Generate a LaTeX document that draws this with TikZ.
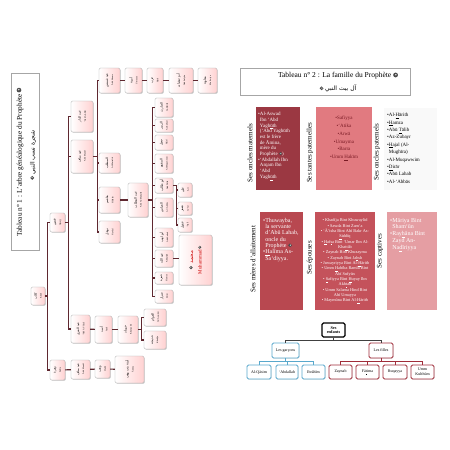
\documentclass[tikz,border=0pt]{standalone}
\usepackage{fontspec}
\usepackage{graphicx}
\setmainfont{Liberation Serif}
\newfontfamily\arabicfont[Script=Arabic]{DejaVu Sans}
\TeXXeTstate=1
\usetikzlibrary{shadows,calc}
\definecolor{tline}{RGB}{95,40,48}
\definecolor{pdark}{RGB}{155,56,66}
\definecolor{psalmon}{RGB}{225,122,128}
\definecolor{pmed}{RGB}{184,72,80}
\definecolor{pmid}{RGB}{196,82,91}
\definecolor{plight}{RGB}{229,158,163}
\definecolor{tdark}{RGB}{120,25,35}
\definecolor{bblue}{RGB}{88,168,204}
\definecolor{bred}{RGB}{160,45,58}
\newcommand\arf[1]{{\arabicfont #1}}
% the honorific sign (no installed font has it): drawn as a small shape
\newcommand\saw{\tikz[baseline={(0,-0.08em)}]{\fill[black!70] (0,0.3em) circle[radius=0.32em];\fill[white] (0.05em,0.33em) circle[radius=0.1em];}}
\newcommand\udl[1]{\underline{#1}}
\newcommand\tb[8][]{\node[tbox,#1,minimum width={(#5-#3)*1pt},minimum height={(#6-#4)*1pt}] (#2) at ({(#3+#5)/2},{(#4+#6)/2}) {\rotatebox{90}{\shortstack{\fontsize{3.2}{3.6}\arf{#7}\\\fontsize{2.2}{2.6}\selectfont #8}}};}
\begin{document}
\begin{tikzpicture}[x=1pt,y=-1pt,
  tbox/.style={draw=gray!65, line width=0.4pt, rounded corners=1.3pt, left color=white, right color=red!18, inner sep=0pt, drop shadow={shadow xshift=0.8pt, shadow yshift=-0.8pt, fill=gray!65}},
  conn/.style={draw=tline, line width=1.1pt},
  titlebox/.style={draw=gray!70, line width=0.4pt, fill=white, inner sep=0pt},
  panel/.style={draw=none, inner sep=0pt},
  plabel/.style={rotate=90, inner sep=0pt, font=\fontsize{7}{8}\selectfont},
  kid/.style={draw, line width=0.9pt, rounded corners=1.5pt, fill=white, inner sep=0pt, align=center, font=\fontsize{4}{4.6}\selectfont, drop shadow={shadow xshift=0.6pt, shadow yshift=-0.6pt, fill=gray!50}},
  bconn/.style={draw=bblue, line width=0.8pt},
  rconn/.style={draw=bred, line width=0.8pt},
  kconn/.style={draw=black!75, line width=0.8pt}]
\useasboundingbox[fill=white] (0,0) rectangle (450,450);

% ---------- Left page: family tree ----------
\node[titlebox, minimum width=28pt, minimum height=177pt] (t1box) at (25,161.5) {};
\node[rotate=90, inner sep=0pt, font=\fontsize{7.3}{8}\selectfont] (t1fr) at (20,162) {Tableau n° 1 : L'arbre généalogique du Prophète \saw};
\node[rotate=90, inner sep=0pt, font=\fontsize{6}{7}\selectfont] (t1ar) at (33,155) {\saw~\arf{\beginR شجرة نسب النبي\endR}};

\tb{B}{31}{287}{45}{305}{\beginR كلاب\endR}{Kilāb}
\tb{A}{50}{213}{65}{232}{\beginR قصي\endR}{Qusayy}
\tb{C1}{71}{101}{93}{132}{\beginR عبد الدار\endR}{‘Abd Ad-Dār}
\tb{C2}{71}{140}{93}{173}{\beginR عبد مناف\endR}{‘Abd Manāf}
\tb{D1}{71}{315}{90}{343}{\beginR عبد العزى\endR}{‘Abd Al-‘Uzzā}
\tb{D2}{95}{316}{112}{343}{\beginR أسد\endR}{Asad}
\tb{D3}{118}{316}{138}{343}{\beginR خويلد\endR}{Khuwaylid}
\tb{D4a}{144}{309}{166}{326}{\beginR العوام\endR}{Al-‘Awwām}
\tb{D4b}{144}{331}{166}{349}{\beginR خديجة\endR}{Khadīja}
\tb{Z1}{50}{360}{65}{380}{\beginR زهرة\endR}{Zuhra}
\tb{Z2}{71}{360}{90}{379}{\beginR عبد مناف\endR}{‘Abd Manāf}
\tb{Z3}{95}{360}{110}{378}{\beginR وهب\endR}{Wahb}
\tb{Z4}{115}{356}{144}{383}{\beginR آمنة بنت وهب\endR}{Āmina}
\tb{T1}{99}{68}{120}{93}{\beginR عبد شمس\endR}{‘Abd Shams}
\tb{T2}{125}{68}{142}{93}{\beginR أمية\endR}{Umayya}
\tb{T3}{147}{68}{163}{93}{\beginR حرب\endR}{Harb}
\tb{T4}{169}{68}{193}{93}{\beginR أبو سفيان\endR}{Abū Sufyān}
\tb{T5}{198}{68}{217}{93}{\beginR معاوية\endR}{Mu‘āwiya}
\tb{M1}{99}{153}{120}{173}{\beginR المطلب\endR}{Al-Muttalib}
\tb{H}{99}{187}{120}{213}{\beginR هاشم\endR}{Hāshim}
\tb{N}{99}{221}{120}{243}{\beginR نوفل\endR}{Nawfal}
\tb{AM}{128}{183}{148}{217}{\beginR عبد المطلب\endR}{‘Abd Al-Muttalib}
\tb{K1}{155}{98}{173}{117}{\beginR الحارث\endR}{Al-Hārith}
\tb{K2}{155}{119}{173}{132}{\beginR الزبير\endR}{Az-Zubayr}
\tb{K3}{155}{135}{173}{150}{\beginR حجل\endR}{Hajal}
\tb{K4}{155}{154}{173}{173}{\beginR المقوم\endR}{Al-Muqawwim}
\tb{K5}{155}{178}{173}{193}{\beginR أبو طالب\endR}{Abū Tālib}
\tb{K6}{155}{198}{173}{217}{\beginR العباس\endR}{Al-‘Abbās}
\tb{K7}{155}{228}{173}{247}{\beginR أبو لهب\endR}{Abū Lahab}
\tb{K8}{155}{250}{173}{267}{\beginR عبد الله\endR}{‘Abdallah}
\tb{K9}{155}{272}{173}{284}{\beginR حمزة\endR}{Hamza}
\tb{K10}{155}{290}{173}{303}{\beginR ضرار\endR}{Dirār}
\tb{L1}{178}{183}{192}{197}{\beginR علي\endR}{‘Alī}
\tb{L2}{178}{202}{192}{215}{\beginR جعفر\endR}{Ja‘far}
\tb{L3}{178}{218}{192}{232}{\beginR عقيل\endR}{‘Aqīl}
\node[tbox, minimum width=33pt, minimum height=50pt] (MU) at (195.5,260) {\rotatebox{90}{\shortstack{\fontsize{5.5}{6.5}\color{red!80!black}\saw~\arf{\beginR محمد\endR}\\[2pt]\fontsize{5}{6}\selectfont\color{red!80!black}Muhammad \saw}}};

\draw[conn] (B.east) -- ++(2,0) |- (A.west);
\draw[conn] (B.east) -- ++(2,0) |- (Z1.west);
\draw[conn] (A.east) -- ++(3,0) |- (C1.west);
\draw[conn] (A.east) -- ++(3,0) |- (C2.west);
\draw[conn] (A.east) -- ++(3,0) |- (D1.west);
\draw[conn] (C2.east) -- ++(4,0) |- (T1.west);
\draw[conn] (C2.east) -- ++(4,0) |- (M1.west);
\draw[conn] (C2.east) -- ++(4,0) |- (H.west);
\draw[conn] (C2.east) -- ++(4,0) |- (N.west);
\draw[conn] (T1) -- (T2); \draw[conn] (T2) -- (T3); \draw[conn] (T3) -- (T4); \draw[conn] (T4) -- (T5);
\draw[conn] (H) -- (AM);
\foreach \k in {K1,K2,K3,K4,K5,K6,K7,K8,K9,K10}{\draw[conn] (AM.east) -- ++(4,0) |- (\k.west);}
\foreach \k in {L1,L2,L3}{\draw[conn] (K5.east) -- ++(3,0) |- (\k.west);}
\draw[conn] (K8.east) -- (K8.east -| MU.west);
\draw[conn] (D1) -- (D2); \draw[conn] (D2) -- (D3);
\draw[conn] (D3.east) -- ++(3,0) |- (D4a.west);
\draw[conn] (D3.east) -- ++(3,0) |- (D4b.west);
\draw[conn] (Z1) -- (Z2); \draw[conn] (Z2) -- (Z3); \draw[conn] (Z3) -- (Z4);

% ---------- Right page: family ----------
\node[titlebox, minimum width=170pt, minimum height=27pt] (t2box) at (325,81.5) {};
\node[inner sep=0pt, font=\fontsize{7.5}{8.5}\selectfont] (t2fr) at (338,76) {Tableau n° 2 : La famille du Prophète \saw};
\node[inner sep=0pt, font=\fontsize{6}{7}\selectfont] (t2ar) at (338,88.5) {\saw~\arf{\beginR آل بيت النبي\endR}};

% upper row
\node[panel, fill=pdark, minimum width=44pt, minimum height=83pt] (om) at (278,148.5) {};
\node[panel, fill=psalmon, minimum width=56pt, minimum height=83pt] (tp) at (344,148.5) {};
\node[panel, fill=gray!5, minimum width=53pt, minimum height=82pt] (op) at (410.5,149) {};
\node[plabel] (omL) at (250,153) {Ses oncles maternels};
\node[plabel] (tpL) at (310,153) {Ses tantes paternelles};
\node[plabel] (opL) at (377,152) {Ses oncles paternels};
\node[anchor=north west, inner sep=0pt, text=white, align=left, font=\fontsize{5}{5.7}\selectfont] (omT) at (258,112) {•Al-Aswad\\\phantom{•}Ibn ‘Abd\\\phantom{•}Yagh\udl{ū}th\\\phantom{•}(‘Abd Yaghūth\\\phantom{•}est le frère\\\phantom{•}de Āmina,\\\phantom{•}mère du\\\phantom{•}Prophète \saw)\\•‘Abdallah Ibn\\\phantom{•}Arqam Ibn\\\phantom{•}‘Abd\\\phantom{•}Yagh\udl{ū}th};
\node[anchor=north, inner sep=0pt, text=tdark, align=center, font=\fontsize{5}{7.8}\selectfont] (tpT) at (344,116) {•Safiyya\\•‘Atika\\•Arwā\\•Umayma\\•Barra\\•Umm \udl{H}akīm};
\node[anchor=north west, inner sep=0pt, text=black, align=left, font=\fontsize{5}{7.4}\selectfont] (opT) at (387,113) {•Al-\udl{H}ārith\\•\udl{H}amza\\•Abū \udl{T}ālib\\•Az-Zubayr\\•\udl{H}ajal (Al-\\\phantom{•}Mughīra)\\•Al-Muqawwim\\•\udl{D}irār\\•Abū Lahab\\•Al-‘Abbās};

% lower row
\node[panel, fill=pmed, minimum width=43pt, minimum height=98pt] (ma) at (281.5,261) {};
\node[panel, fill=pmid, minimum width=60pt, minimum height=98pt] (ep) at (345,261) {};
\node[panel, fill=plight, minimum width=50pt, minimum height=98pt] (ca) at (412,261) {};
\node[plabel] (maL) at (253,259) {Ses mères d'allaitement};
\node[plabel] (epL) at (310,258) {Ses épouses};
\node[plabel] (caL) at (380,251) {Ses captives};
\node[anchor=north west, inner sep=0pt, text=white, align=left, font=\fontsize{6}{6.3}\selectfont] (maT) at (263,218) {•Thuwayba,\\\phantom{•}la servante\\\phantom{•}d'Abū Lahab,\\\phantom{•}oncle du\\\phantom{•}Prophète \saw\\•\udl{H}alīma As-\\\phantom{•}Sa‘diyya.};
\node[anchor=north, inner sep=0pt, text=white, align=center, font=\fontsize{4.3}{5.35}\selectfont] (epT) at (345,218.5) {• Khadīja Bint Khuwaylid\\• Sawda Bint Zam‘a\\• ‘Ā’isha Bint Abī Bakr As-\\\udl{S}iddīq\\• \udl{H}af\udl{s}a Bint ‘Umar Ibn Al-\\Kha\udl{t}\udl{t}āb\\• Zaynab Bint Khuzayma\\• Zaynab Bint Ja\udl{h}sh\\• Juwayriyya Bint Al-\udl{H}ārith\\• Umm \udl{H}abība Ramla Bint\\Abī Sufyān\\• \udl{S}afiyya Bint \udl{H}uyay Ibn\\Akh\udl{t}ab\\• Umm Salama Hind Bint\\Abī Umayya\\• Maymūna Bint Al-\udl{H}ārith};
\node[anchor=north west, inner sep=0pt, text=white, align=left, font=\fontsize{6}{6.8}\selectfont] (caT) at (390,218) {•Māriya Bint\\\phantom{•}Sham‘ūn\\•Ray\udl{h}āna Bint\\\phantom{•}Zayd An-\\\phantom{•}Na\udl{d}īriyya};

% children tree
\node[kid, draw=black, line width=1.2pt, font=\bfseries\fontsize{4.3}{4.8}\selectfont, minimum width=23pt, minimum height=14pt] (enf) at (333.5,330) {Ses\\enfants};
\node[kid, draw=bblue, minimum width=27pt, minimum height=15pt] (gar) at (285.5,350.5) {Les garçons};
\node[kid, draw=bred, minimum width=24pt, minimum height=15pt] (fil) at (381,350.5) {Les filles};
\node[kid, draw=bblue, minimum width=24pt, minimum height=14pt] (qas) at (259,372) {Al-Qāsim};
\node[kid, draw=bblue, minimum width=22pt, minimum height=14pt] (abd) at (287,372) {‘Abdallah};
\node[kid, draw=bblue, minimum width=23pt, minimum height=14pt] (ibr) at (313.5,372) {Ibrāhīm};
\node[kid, draw=bred, minimum width=23pt, minimum height=14pt] (zay) at (340.5,372) {Zaynab};
\node[kid, draw=bred, minimum width=23pt, minimum height=14pt] (fat) at (367.5,372) {Fā\udl{t}ima};
\node[kid, draw=bred, minimum width=24pt, minimum height=14pt] (ruq) at (395,372) {Ruqayya};
\node[kid, draw=bred, minimum width=23pt, minimum height=14pt] (umk) at (422.5,372) {Umm\\Kulthūm};
\draw[kconn] (enf.south) -- ++(0,3) -| (gar.north);
\draw[kconn] (enf.south) -- ++(0,3) -| (fil.north);
\foreach \c in {qas,abd,ibr}{\draw[bconn] (gar.south) -- ++(0,3) -| (\c.north);}
\foreach \c in {zay,fat,ruq,umk}{\draw[rconn] (fil.south) -- ++(0,3) -| (\c.north);}
\end{tikzpicture}
\end{document}
